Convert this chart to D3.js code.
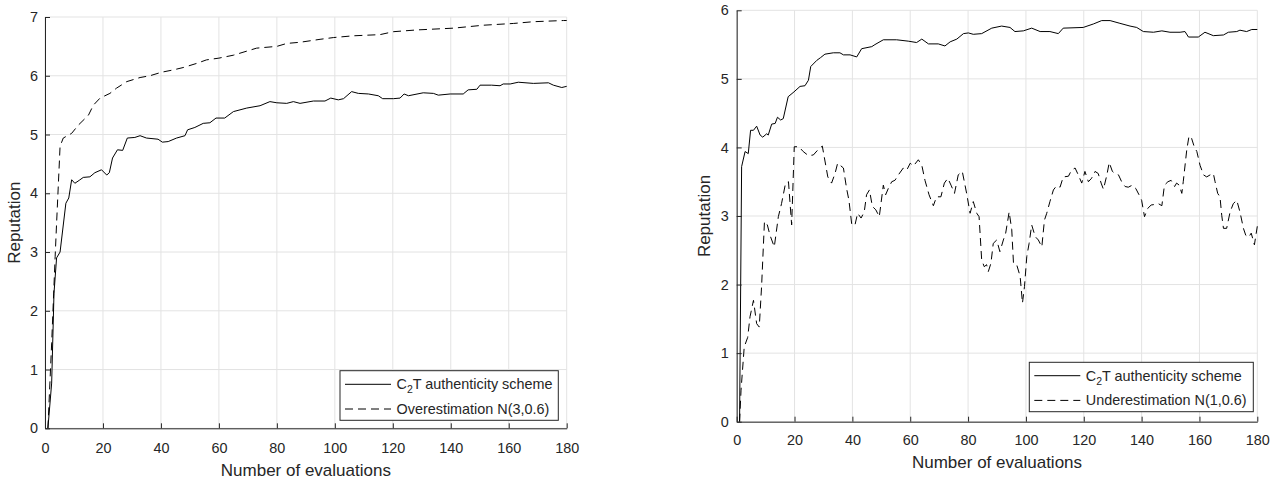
<!DOCTYPE html>
<html><head><meta charset="utf-8">
<script src="https://cdn.jsdelivr.net/npm/d3@7"></script>
<style>
body{margin:0;background:#fff}
svg{display:block}
text{font-family:"Liberation Sans",Arial,Helvetica,sans-serif;fill:#262626}
</style>
</head><body>
<svg id="chart" width="1274" height="483"></svg>
<script>
// ---------- data ----------
const xTicks = [0, 20, 40, 60, 80, 100, 120, 140, 160, 180];
const yTicksLeft = [0, 1, 2, 3, 4, 5, 6, 7];
const yTicksRight = [0, 1, 2, 3, 4, 5, 6];
const xLabel = "Number of evaluations";
const yLabel = "Reputation";
const legendLeft = ["C_2T authenticity scheme", "Overestimation N(3,0.6)"];
const legendRight = ["C_2T authenticity scheme", "Underestimation N(1,0.6)"];

// left panel: C2T scheme (solid)
const c2tLeft = [[1,0],[2.3,0.77],[3.1,2.3],[4,2.9],[5.2,3.0],[7.2,3.83],[8.2,3.92],[9.2,4.23],[10.3,4.17],[11.8,4.22],[13.2,4.27],[15.5,4.28],[17.2,4.35],[19.5,4.40],[21.3,4.31],[22.2,4.35],[23.3,4.6],[25,4.74],[26.8,4.73],[28.4,4.94],[31,4.95],[32.8,4.98],[35,4.94],[39,4.92],[40.5,4.87],[42.5,4.88],[45.4,4.94],[48.3,4.98],[49.2,5.08],[51.7,5.12],[54.6,5.19],[56.9,5.2],[59,5.28],[62,5.28],[65,5.39],[69.6,5.45],[74.2,5.49],[77.6,5.56],[80,5.54],[83.4,5.53],[85.7,5.56],[88,5.53],[92.6,5.57],[96.6,5.57],[98.6,5.62],[101.2,5.59],[103,5.61],[105.8,5.73],[108.1,5.70],[111.6,5.69],[115,5.66],[116.5,5.61],[120.2,5.61],[122.5,5.62],[123.9,5.69],[125.4,5.66],[130.5,5.71],[134,5.70],[135.7,5.67],[139.8,5.69],[144.3,5.69],[146,5.76],[149,5.77],[150.1,5.84],[154.1,5.84],[157,5.83],[158.1,5.86],[160.5,5.86],[163.3,5.89],[168.5,5.87],[173.7,5.88],[175.4,5.84],[178.3,5.80],[180,5.82]];

// left panel: overestimation (dashed)
const overLeft = [[1,0],[2.3,1.45],[3.5,2.92],[4,3.49],[5.2,4.8],[6.3,4.94],[9.2,5.02],[11.5,5.16],[15,5.33],[16.7,5.5],[19,5.62],[22.4,5.70],[24.7,5.79],[28.2,5.9],[32.8,5.97],[36.2,6.0],[40.2,6.06],[44.3,6.10],[47.7,6.14],[52.3,6.21],[55.7,6.27],[60,6.30],[65,6.35],[73,6.47],[80,6.50],[83.4,6.55],[88,6.57],[94.9,6.62],[99.5,6.65],[106.4,6.68],[115.6,6.70],[120.2,6.75],[128.3,6.78],[140.9,6.81],[151.2,6.86],[161.6,6.89],[168.5,6.92],[178.9,6.94],[180,6.94]];

// right panel: C2T scheme (solid)
const c2tRight = [[1,0],[1.7,3.72],[2.9,3.94],[4,3.91],[4.8,4.25],[5.8,4.25],[6.9,4.31],[8.1,4.18],[9,4.15],[10.4,4.20],[10.9,4.18],[12.1,4.34],[13.3,4.35],[14.1,4.44],[15.2,4.40],[16.1,4.42],[17.8,4.74],[19.8,4.81],[21.9,4.89],[23.6,4.90],[24.8,4.98],[25.6,5.18],[27.7,5.27],[29,5.31],[30.5,5.36],[33.4,5.38],[35.7,5.38],[36.9,5.35],[39.2,5.35],[41.5,5.32],[43.2,5.44],[46.7,5.47],[47.8,5.50],[50.7,5.57],[55.3,5.57],[59.3,5.55],[62.2,5.53],[64,5.58],[66.3,5.51],[69.7,5.51],[72,5.48],[73.8,5.54],[76.1,5.58],[78.4,5.66],[80.1,5.67],[81.8,5.65],[84.7,5.66],[88.2,5.74],[91.6,5.77],[94.5,5.75],[96.2,5.69],[99.1,5.70],[102,5.74],[104.9,5.69],[108.3,5.69],[111.2,5.66],[112.9,5.74],[119.8,5.75],[123.3,5.80],[126.2,5.85],[129.1,5.85],[132.5,5.81],[136,5.77],[138.3,5.75],[140.6,5.69],[144.1,5.68],[147,5.70],[149.8,5.68],[153.3,5.68],[155,5.69],[156.2,5.61],[159.6,5.61],[161.9,5.68],[164.8,5.63],[168.3,5.64],[170,5.68],[172.9,5.69],[174,5.71],[176.3,5.69],[178.1,5.72],[180,5.72]];

// right panel: underestimation (dashed)
const underRight = [[1,0],[1.5,0.46],[2.6,1.09],[3.8,1.23],[4.6,1.53],[5.8,1.77],[6.9,1.43],[7.8,1.38],[8.6,1.97],[9.6,2.92],[10.6,2.87],[11.5,2.72],[13,2.55],[14.4,2.99],[15.5,3.18],[16.9,3.48],[17.9,3.50],[19,2.87],[19.9,4.01],[21.5,4.01],[23,3.94],[24.8,3.88],[26.5,3.89],[28.2,3.97],[29.6,4.02],[31.5,3.57],[32.8,3.48],[34,3.62],[34.9,3.77],[36.9,3.70],[38,3.40],[38.8,3.23],[39.8,2.87],[40.9,2.87],[41.8,3.04],[43,2.97],[44.1,3.06],[44.9,3.31],[45.9,3.38],[46.9,3.14],[48.1,3.09],[49.3,2.99],[50.7,3.45],[51.5,3.31],[52.4,3.40],[53.6,3.50],[54.7,3.52],[55.9,3.60],[57.6,3.70],[58.8,3.67],[60,3.77],[61.1,3.73],[62.8,3.82],[64,3.74],[65.1,3.52],[66.5,3.31],[68,3.15],[69.1,3.28],[70.6,3.28],[71.8,3.48],[73,3.55],[74.1,3.45],[75.3,3.33],[76.6,3.60],[78,3.65],[79.5,3.33],[80.7,3.04],[81.8,3.21],[83,3.04],[83.8,2.99],[84.7,2.36],[85.6,2.26],[86.4,2.29],[87,2.19],[87.9,2.31],[88.7,2.60],[89.9,2.65],[91,2.48],[92.2,2.65],[93,2.75],[94.2,3.06],[95.1,2.80],[95.7,2.31],[96.8,2.29],[98,2.12],[98.8,1.73],[99.5,1.97],[100.3,2.41],[101.1,2.60],[102,2.87],[103.2,2.70],[104.3,2.65],[105.5,2.55],[106.4,2.94],[107.2,3.04],[108.3,3.21],[109.5,3.38],[110.6,3.44],[111.8,3.42],[112.9,3.57],[114.7,3.58],[115.8,3.67],[117,3.70],[118.1,3.60],[119.3,3.48],[120.4,3.65],[121.6,3.50],[122.7,3.55],[123.9,3.65],[125,3.62],[126,3.48],[126.8,3.39],[128,3.60],[128.8,3.78],[129.9,3.65],[130.8,3.62],[132,3.60],[133.1,3.50],[134.3,3.43],[135.4,3.42],[136.8,3.45],[138,3.40],[139.1,3.31],[140,3.23],[141,2.99],[142.1,3.11],[143.3,3.16],[144.7,3.17],[145.8,3.18],[147,3.15],[147.9,3.45],[149.1,3.50],[150.2,3.52],[151.4,3.43],[152.1,3.48],[153,3.45],[153.9,3.33],[154.4,3.50],[155.6,3.96],[156.4,4.17],[157.3,4.13],[158.2,4.01],[159.1,3.94],[160.2,3.74],[161.4,3.60],[162.5,3.57],[163.7,3.60],[164.8,3.62],[165.4,3.50],[166.3,3.33],[167.1,3.28],[167.7,3.01],[168.3,2.82],[169.4,2.82],[170.6,3.06],[171.7,3.18],[172.9,3.23],[174,3.06],[175.2,2.82],[176,2.72],[177,2.69],[177.9,2.75],[179,2.58],[180,2.85]];

// ---------- drawing ----------
const svg = d3.select("#chart");
const DASH = "8,5";
const FONT = '"Liberation Sans",Arial,Helvetica,sans-serif';

function addLabel(sel, label) {
  const parts = label.split(/_(\d)/);
  parts.forEach((p, i) => {
    if (!p) return;
    if (i % 2 === 1) {
      sel.append("tspan").attr("font-size", "10.5px").attr("dy", "4").text(p);
    } else {
      const t = sel.append("tspan").text(p);
      if (i > 0) t.attr("dy", "-4");
    }
  });
}

function drawPanel(cfg) {
  const x = d3.scaleLinear().domain([0, 180]).range([cfg.x0, cfg.x1]);
  const y = d3.scaleLinear().domain([0, cfg.yMax]).range([cfg.yBot, cfg.yTop]);
  const g = svg.append("g");

  // grid
  g.append("g").selectAll("line").data(xTicks).join("line")
    .attr("x1", d => x(d)).attr("x2", d => x(d))
    .attr("y1", cfg.yTop).attr("y2", cfg.yBot)
    .attr("stroke", "#e3e3e3").attr("stroke-width", 1);
  g.append("g").selectAll("line").data(cfg.yTicks).join("line")
    .attr("x1", cfg.x0).attr("x2", cfg.x1)
    .attr("y1", d => y(d)).attr("y2", d => y(d))
    .attr("stroke", "#e3e3e3").attr("stroke-width", 1);

  // series
  const line = d3.line().x(d => x(d[0])).y(d => y(d[1]));
  g.append("path").datum(cfg.solid).attr("d", line)
    .attr("fill", "none").attr("stroke", "#000").attr("stroke-width", 1);
  g.append("path").datum(cfg.dashed).attr("d", line)
    .attr("fill", "none").attr("stroke", "#000").attr("stroke-width", 1)
    .attr("stroke-dasharray", DASH);

  // axes
  const fmt = d3.format("d");
  const xa = g.append("g").attr("transform", `translate(0,${cfg.yBot})`)
    .call(d3.axisBottom(x).tickValues(xTicks).tickFormat(fmt)
      .tickSizeInner(-5).tickSizeOuter(0).tickPadding(cfg.xPad));
  const ya = g.append("g").attr("transform", `translate(${cfg.x0},0)`)
    .call(d3.axisLeft(y).tickValues(cfg.yTicks).tickFormat(fmt)
      .tickSizeInner(-5).tickSizeOuter(0).tickPadding(cfg.yPad));
  [xa, ya].forEach(a => {
    a.attr("font-family", FONT).attr("font-size", 14.4);
    a.selectAll("path.domain").attr("stroke", "#262626");
    a.selectAll(".tick line").attr("stroke", "#262626");
    a.selectAll(".tick text").attr("fill", "#262626");
  });

  // axis labels
  g.append("text").attr("x", (cfg.x0 + cfg.x1) / 2).attr("y", cfg.xLabelY)
    .attr("text-anchor", "middle").style("font-size", "17px").text(xLabel);
  g.append("text")
    .attr("transform", `translate(${cfg.yLabelX},${(cfg.yTop + cfg.yBot) / 2}) rotate(-90)`)
    .attr("text-anchor", "middle").style("font-size", "17px").text(yLabel);

  // legend
  const L = cfg.legend;
  const lg = g.append("g");
  lg.append("rect").attr("x", L.x).attr("y", L.y).attr("width", L.w).attr("height", L.h)
    .attr("fill", "#fff").attr("stroke", "#262626").attr("stroke-width", 1);
  cfg.labels.forEach((lab, i) => {
    const cy = L.y + L.row0 + i * L.rowStep;
    lg.append("line").attr("x1", L.x + 5).attr("x2", L.x + 51)
      .attr("y1", cy).attr("y2", cy).attr("stroke", "#000").attr("stroke-width", 1)
      .attr("stroke-dasharray", i === 1 ? DASH : null);
    const t = lg.append("text").attr("x", L.x + 56.5).attr("y", cy + 5)
      .style("font-size", "14.4px");
    addLabel(t, lab);
  });
}

drawPanel({
  x0: 45, x1: 566.7, yTop: 17, yBot: 428.3, yMax: 7, yTicks: yTicksLeft,
  xPad: 14, yPad: 7, xLabelY: 475.7, yLabelX: 20,
  solid: c2tLeft, dashed: overLeft, labels: legendLeft,
  legend: { x: 340, y: 370.7, w: 218.3, h: 49.6, row0: 13.6, rowStep: 24.7 }
});
drawPanel({
  x0: 736.7, x1: 1257.3, yTop: 10.3, yBot: 421.7, yMax: 6, yTicks: yTicksRight,
  xPad: 13, yPad: 8, xLabelY: 468.3, yLabelX: 710,
  solid: c2tRight, dashed: underRight, labels: legendRight,
  legend: { x: 1029.3, y: 362.3, w: 224, h: 49.4, row0: 13.4, rowStep: 24.7 }
});
</script>
</body></html>
